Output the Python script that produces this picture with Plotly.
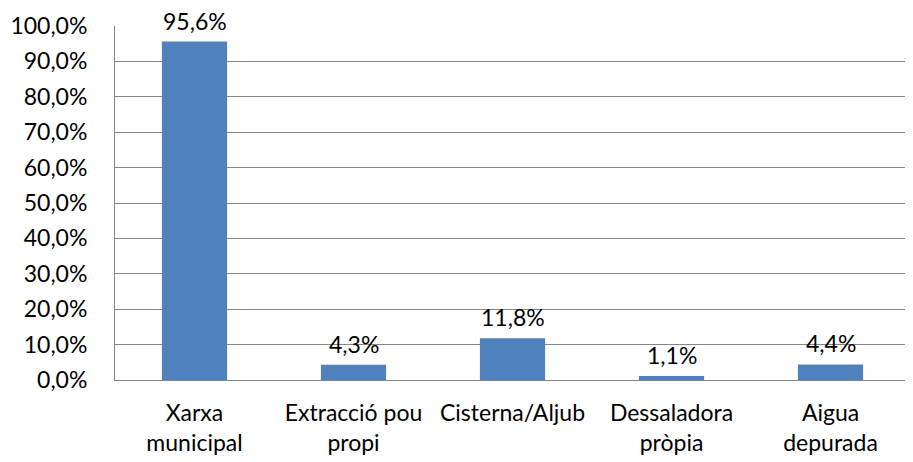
import plotly.graph_objects as go

categories = ["Xarxa<br>municipal", "Extracció pou<br>propi", "Cisterna/Aljub", "Dessaladora<br>pròpia", "Aigua<br>depurada"]
values = [95.6, 4.3, 11.8, 1.1, 4.4]
y_ticks = [0, 10, 20, 30, 40, 50, 60, 70, 80, 90, 100]
y_ticktext = [f"{v:.1f}%".replace(".", ",") for v in y_ticks]
value_labels = [f"{v:.1f}%".replace(".", ",") for v in values]

FONT = "Lato, Noto Sans, sans-serif"
FS = 23

fig = go.Figure(go.Bar(
    x=categories, y=values,
    marker=dict(color="#4F81BD", line=dict(width=0)),
    hoverinfo="x+y",
))

for c, v, t in zip(categories, values, value_labels):
    fig.add_annotation(x=c, y=v, text=t, showarrow=False, yanchor="bottom",
                       yshift=5, font=dict(family=FONT, size=FS, color="#000000"))

fig.update_layout(
    width=905, height=454,
    margin=dict(l=107, r=3, t=18, b=82),
    paper_bgcolor="white", plot_bgcolor="white",
    font=dict(family=FONT, size=FS, color="#000000"),
    bargap=0.59,
    showlegend=False,
)
fig.update_yaxes(
    range=[0, 100], tickvals=y_ticks, ticktext=y_ticktext,
    showgrid=True, gridcolor="#868686", gridwidth=1,
    showline=True, linecolor="#868686", linewidth=1,
    ticks="", ticklabelstandoff=22, zeroline=False,
)
fig.update_xaxes(
    showline=True, linecolor="#868686", linewidth=1, ticks="", ticklabelstandoff=12,
)

fig.write_html("out.html")
